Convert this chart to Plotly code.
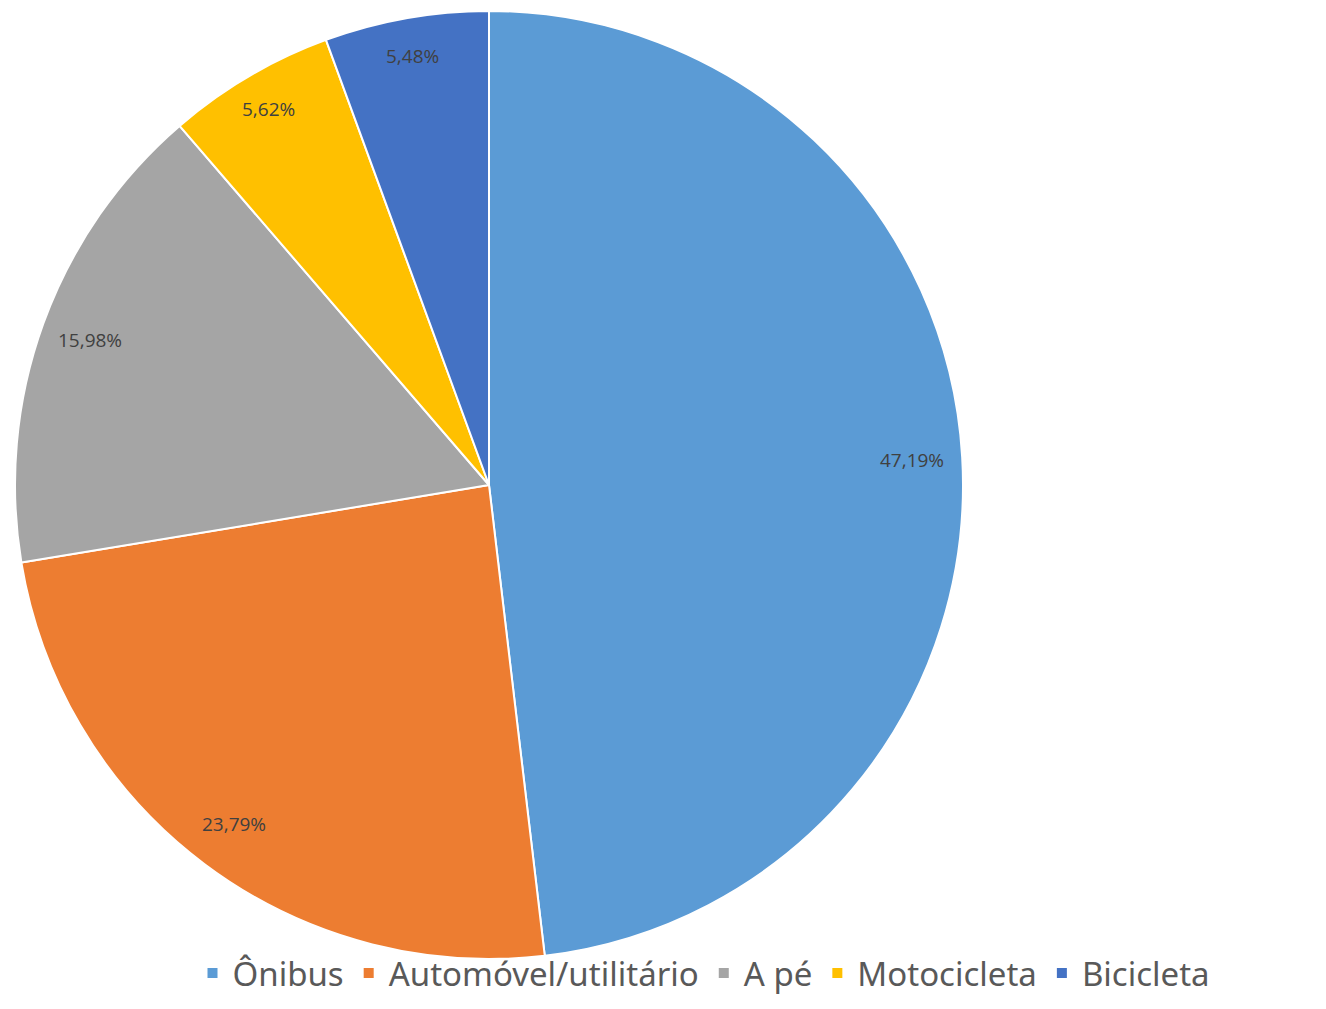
import math
import plotly.graph_objects as go

labels = ["Ônibus", "Automóvel/utilitário", "A pé", "Motocicleta", "Bicicleta"]
values = [47.19, 23.79, 15.98, 5.62, 5.48]
colors = ["#5B9BD5", "#ED7D31", "#A5A5A5", "#FFC000", "#4472C4"]

# page body has an 8px margin; figure is sized to fit the window
OFF = 8
W, H = 1326 - 2 * OFF, 1009 - 2 * OFF
cx_px, cy_px, R_px = 489 - OFF, 485 - OFF, 474

dom_x = [(cx_px - R_px) / W, (cx_px + R_px) / W]
dom_y = [1 - (cy_px + R_px) / H, 1 - (cy_px - R_px) / H]

fig = go.Figure(go.Pie(
    labels=labels, values=values, sort=False, direction="clockwise", rotation=0,
    marker=dict(colors=colors, line=dict(color="white", width=2)),
    textinfo="none", hoverinfo="label+value",
    domain=dict(x=dom_x, y=dom_y),
))

total = sum(values)
cum = 0
cxp = cx_px / W
cyp = 1 - cy_px / H
annotations = []
for v in values:
    mid = (cum + v / 2) / total * 2 * math.pi
    cum += v
    r = R_px * (0.895 if v > 10 else 0.92)
    annotations.append(dict(
        x=cxp + r * math.sin(mid) / W, y=cyp + r * math.cos(mid) / H,
        xref="paper", yref="paper", showarrow=False,
        xanchor="center", yanchor="middle",
        text=f"{v:.2f}%".replace(".", ","),
        font=dict(family="Open Sans", size=19, color="#404040"),
    ))

fig.update_layout(
    width=W, height=H, margin=dict(l=0, r=0, t=0, b=0, autoexpand=False),
    paper_bgcolor="white", plot_bgcolor="white",
    annotations=annotations,
    legend=dict(orientation="h", x=(704 - OFF) / W, xanchor="center",
                y=0, yanchor="bottom",
                font=dict(family="Noto Sans", size=33, color="#595959"),
                traceorder="normal", bgcolor="rgba(0,0,0,0)"),
)

fig.write_html("out.html")
